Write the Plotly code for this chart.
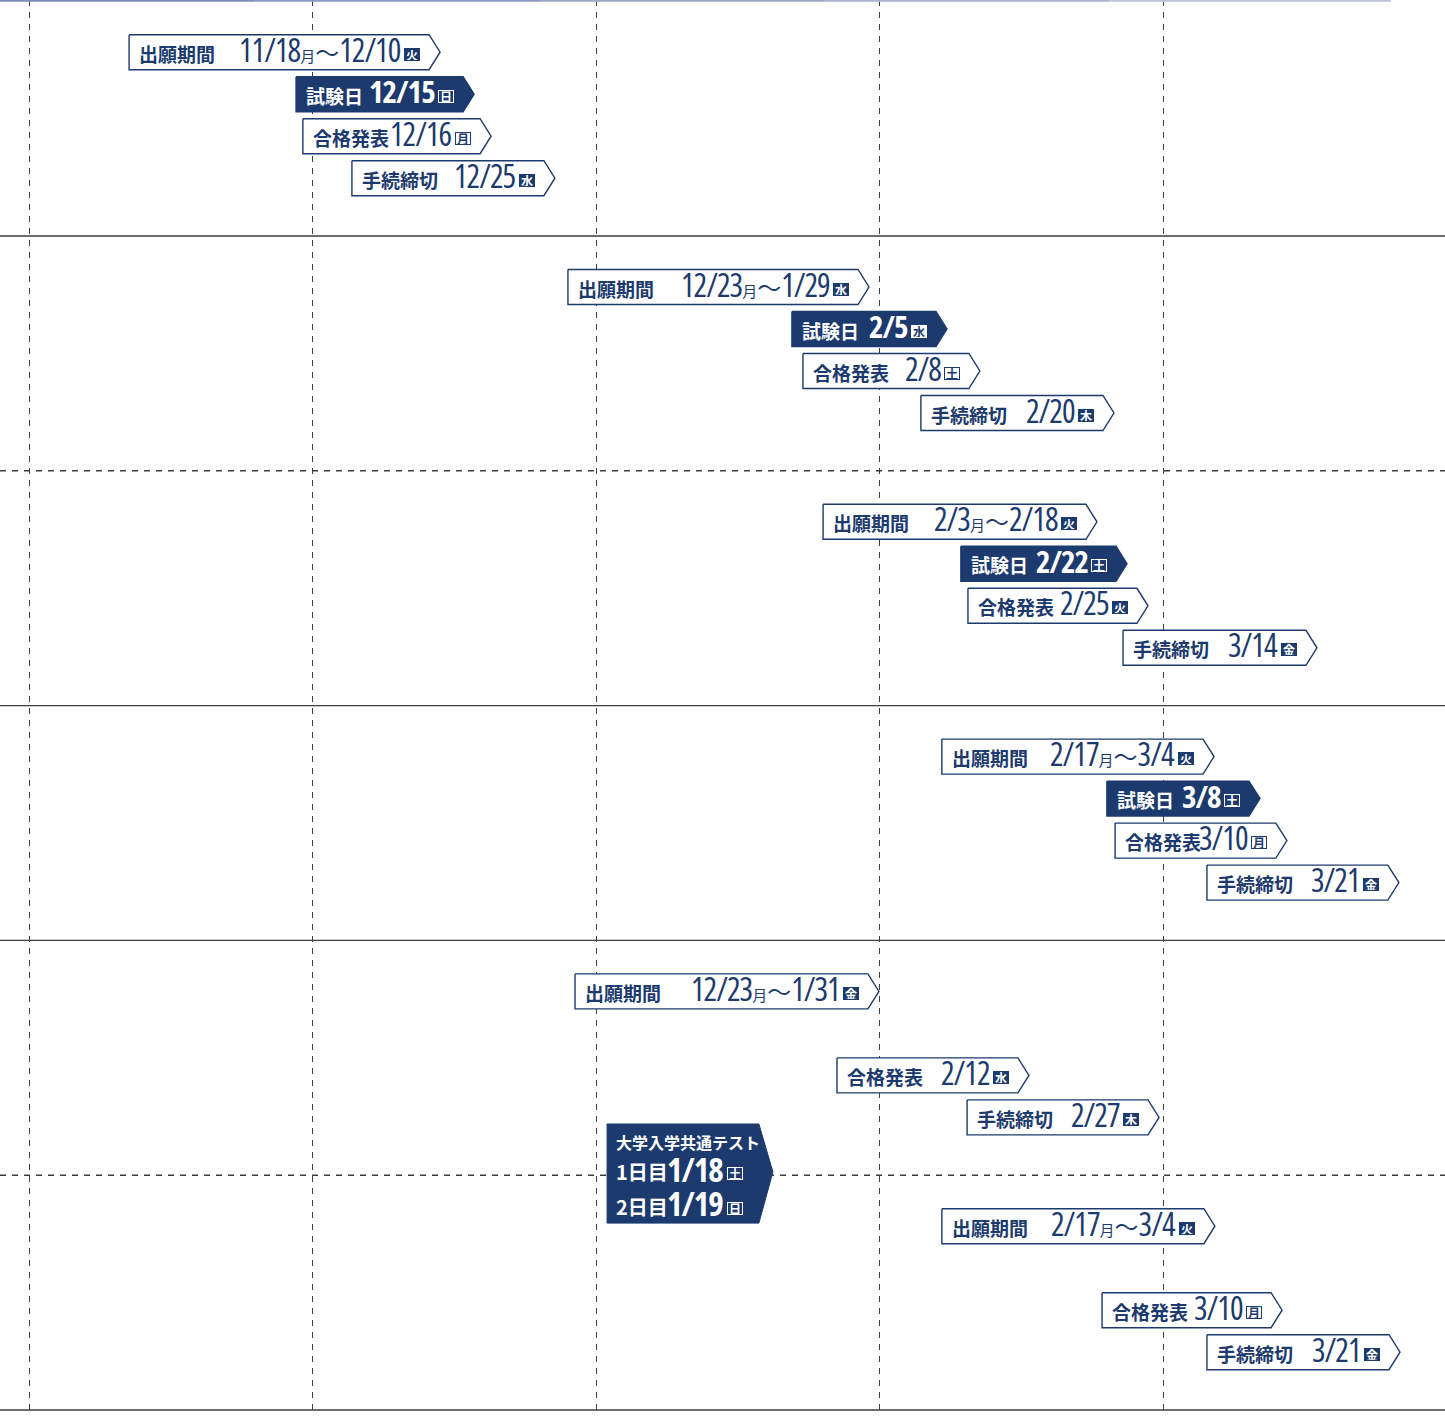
import plotly.graph_objects as go

# ---------------- data ----------------
months = ["11月", "12月", "1月", "2月", "3月"]          # vertical dashed grid = month starts
month_pos = [0, 1, 2, 3, 4]

section_bounds = [1, 2, 3, 4, 5, 6]
section_dash = ["solid", "dash", "solid", "solid", "dash", "solid"]

sections = [0, 0, 0, 0, 1, 1, 1, 1, 2, 2, 2, 2, 3, 3, 3, 3, 4, 4, 4, 5, 5, 5]
slots    = [0, 1, 2, 3, 0, 1, 2, 3, 0, 1, 2, 3, 0, 1, 2, 3, 0, 2, 3, 0, 2, 3]
labels = (["出願期間", "試験日", "合格発表", "手続締切"] * 4
          + ["出願期間", "合格発表", "手続締切"] * 2)
start_dates = ["11/18", "", "", "", "12/23", "", "", "", "2/3", "", "", "", "2/17", "", "", "",
               "12/23", "", "", "2/17", "", ""]
start_wd = ["月", "", "", "", "月", "", "", "", "月", "", "", "", "月", "", "", "",
            "月", "", "", "月", "", ""]
end_dates = ["12/10", "12/15", "12/16", "12/25", "1/29", "2/5", "2/8", "2/20",
             "2/18", "2/22", "2/25", "3/14", "3/4", "3/8", "3/10", "3/21",
             "1/31", "2/12", "2/27", "3/4", "3/10", "3/21"]
end_wd = ["火", "日", "月", "水", "水", "水", "土", "木", "火", "土", "火", "金",
          "火", "土", "月", "金", "金", "水", "木", "火", "月", "金"]
# bar span on the month axis (left edge, arrow tip)
bar_start = [0.353, 0.942, 0.966, 1.139, 1.901, 2.691, 2.730, 3.146,
             2.801, 3.287, 3.312, 3.859, 3.220, 3.802, 3.831, 4.155,
             1.926, 2.850, 3.309, 3.220, 3.785, 4.155]
bar_end = [1.450, 1.570, 1.630, 1.855, 2.963, 3.238, 3.354, 3.827,
           3.767, 3.873, 3.947, 4.543, 4.180, 4.342, 4.437, 4.832,
           2.998, 3.527, 3.986, 4.183, 4.420, 4.836]

kyotsu_title = "大学入学共通テスト"
kyotsu_days = ["1日目", "2日目"]
kyotsu_dates = ["1/18", "1/19"]
kyotsu_wd = ["土", "日"]
kyotsu_x = [2.039, 2.624]
kyotsu_y = [4.782, 5.204]

# ---------------- style ----------------
NAVY = "#1c3a6d"
GRID = "#3d3d3d"
PX_X = 283.5      # px per month
PX_Y = 234.8      # px per section
CHEV = 11 / PX_X
BOX_H = 35 / PX_Y
CJK = "Noto Sans CJK JP"
NUM = "Open Sans"
FILLED_WD = {"火", "水", "木", "金"}

fig = go.Figure()
ann = []


def slot_y(sec, slot):
    return sec + (51 + 42 * slot) / PX_Y


def cond(txt):
    return ("<span style=\"font-family:'%s';font-stretch:75%%;letter-spacing:-1px\">%s</span>"
            % (NUM, txt))


def glyph(x, y, wd, on_dark, xshift, yshift):
    filled = wd in FILLED_WD
    if on_dark:
        bg, fc, bc = ("white", NAVY, "white") if filled else (NAVY, "white", "white")
    else:
        bg, fc, bc = (NAVY, "white", NAVY) if filled else ("white", NAVY, NAVY)
    ann.append(dict(x=x, y=y, xref="x", yref="y", text="<b>%s</b>" % wd, showarrow=False,
                    xanchor="right", yanchor="middle", xshift=xshift, yshift=yshift,
                    font=dict(family=CJK, size=12, color=fc), bgcolor=bg, bordercolor=bc,
                    borderwidth=1, borderpad=0, width=14, height=11))


for i in range(len(labels)):
    yc = slot_y(sections[i], slots[i])
    x0, xt = bar_start[i], bar_end[i]
    xr = xt - CHEV
    yt, yb = yc - BOX_H / 2, yc + BOX_H / 2
    dark = labels[i] == "試験日"
    fig.add_trace(go.Scatter(
        x=[x0, xr, xt, xr, x0, x0], y=[yt, yt, yc, yb, yb, yt], mode="lines",
        fill="toself", fillcolor=NAVY if dark else "white",
        line=dict(color=NAVY, width=1.4), hoverinfo="skip", showlegend=False))
    tc = "white" if dark else NAVY
    ann.append(dict(x=x0, y=yc, xref="x", yref="y", text="<b>%s</b>" % labels[i],
                    showarrow=False, xanchor="left", yanchor="middle", xshift=8, yshift=-1,
                    font=dict(family=CJK, size=19, color=tc)))
    if start_dates[i]:
        dtxt = (cond(start_dates[i])
                + "<span style='font-family:%s;font-size:15px'>%s</span>" % (CJK, start_wd[i])
                + "<span style='font-family:%s;font-size:24px'>～</span>" % CJK
                + cond(end_dates[i]))
    else:
        dtxt = cond(end_dates[i])
    if dark:
        dtxt = "<b>%s</b>" % dtxt
    ann.append(dict(x=xr, y=yc, xref="x", yref="y", text=dtxt, showarrow=False,
                    xanchor="right", yanchor="middle", xshift=-26, yshift=3,
                    font=dict(family=NUM, size=31 if dark else 32, color=tc)))
    glyph(xr, yc, end_wd[i], dark, -9, -2)

# 大学入学共通テスト box
kx0, kxt = kyotsu_x
kxr = kxt - 14 / PX_X
ky0, ky1 = kyotsu_y
kyc = 4.986
fig.add_trace(go.Scatter(
    x=[kx0, kxr, kxt, kxr, kx0, kx0], y=[ky0, ky0, kyc, ky1, ky1, ky0], mode="lines",
    fill="toself", fillcolor=NAVY, line=dict(color=NAVY, width=1), hoverinfo="skip",
    showlegend=False))
ann.append(dict(x=kx0, y=4.859, xref="x", yref="y", text="<b>%s</b>" % kyotsu_title,
                showarrow=False, xanchor="left", yanchor="middle", xshift=7,
                font=dict(family=CJK, size=16, color="white")))
for j, ly in enumerate([4.982, 5.127]):
    ann.append(dict(x=kx0, y=ly, xref="x", yref="y", text="<b>%s</b>" % kyotsu_days[j],
                    showarrow=False, xanchor="left", yanchor="middle", xshift=7, yshift=-1,
                    font=dict(family=CJK, size=20, color="white")))
    ann.append(dict(x=kxr, y=ly, xref="x", yref="y",
                    text="<b>%s</b>" % cond(kyotsu_dates[j]),
                    showarrow=False, xanchor="right", yanchor="middle", xshift=-34, yshift=2,
                    height=30,
                    font=dict(family=NUM, size=33, color="white")))
    glyph(kxr, ly, kyotsu_wd[j], True, -16, -3)

# section separators
shapes = []
for b, d in zip(section_bounds, section_dash):
    shapes.append(dict(type="line", xref="paper", yref="y", x0=0, x1=1, y0=b, y1=b,
                       layer="below",
                       line=dict(color=GRID, width=1.4, dash="6px,6px" if d == "dash" else "solid")))
# faint top rule
top_cols = ["#7f8cb5", "#8e9ac0", "#9ea6c8", "#adb2d3", "#bfc2dd"]
edges = [0, 255, 540, 824, 1109, 1391]
for k, c in enumerate(top_cols):
    shapes.append(dict(type="line", xref="paper", yref="paper", x0=edges[k] / 1445,
                       x1=edges[k + 1] / 1445, y0=0.9994, y1=0.9994, line=dict(color=c, width=2)))

fig.update_layout(
    width=1445, height=1416, margin=dict(l=0, r=0, t=0, b=0),
    paper_bgcolor="white", plot_bgcolor="white",
    xaxis=dict(range=[-29 / PX_X, 1416 / PX_X], tickvals=month_pos, ticktext=months,
               showticklabels=False, showgrid=True, gridcolor=GRID, gridwidth=1.4,
               griddash="6px,6px", zeroline=False, showline=False, fixedrange=True),
    yaxis=dict(range=[(1416 - 1.2) / PX_Y, -1.2 / PX_Y], showgrid=False, zeroline=False,
               showticklabels=False, showline=False, fixedrange=True),
    annotations=ann, shapes=shapes, showlegend=False,
)

fig.write_html("out.html", config={"displayModeBar": False},
               post_script="document.body.style.margin='0';document.body.style.overflow='hidden';")
